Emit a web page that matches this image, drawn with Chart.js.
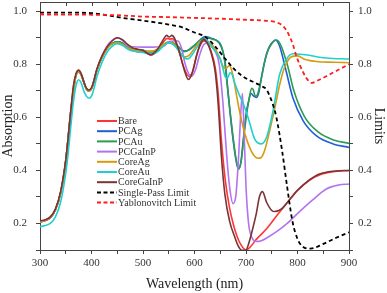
<!DOCTYPE html>
<html lang="en">
<head>
<meta charset="UTF-8" />
<title>Absorption spectra</title>
<script src="https://cdn.jsdelivr.net/npm/chart.js"></script>
<style>
  html, body { margin: 0; padding: 0; background: #fff; }
</style>
</head>
<body>
<canvas id="absChart" width="387" height="293"></canvas>
<script>
  // axis ticks
  const xTicks = [300, 350, 400, 450, 500, 550, 600, 650, 700, 750, 800, 850, 900];
  const yTicks = [0.1, 0.2, 0.3, 0.4, 0.5, 0.6, 0.7, 0.8, 0.9, 1.0];

  // Bare
  const bareWl = [300,310,320,330,340,350,355,360,365,370,375,380,385,390,395,400,405,410,420,430,440,450,460,470,480,490,500,510,515,520,530,540,547,552,557,563,570,580,589,596,605,612,618,625,632,640,646,652,660,668,675,682,690,700,710,720,740,760,783,800,824,845,869,900];
  const bareAbs = [0.205,0.21,0.222,0.252,0.315,0.435,0.525,0.625,0.715,0.76,0.773,0.76,0.732,0.708,0.7,0.708,0.735,0.775,0.825,0.86,0.878,0.885,0.88,0.864,0.852,0.848,0.848,0.84,0.835,0.838,0.855,0.885,0.898,0.895,0.897,0.885,0.848,0.785,0.755,0.77,0.84,0.875,0.888,0.88,0.85,0.79,0.69,0.52,0.36,0.26,0.2,0.155,0.12,0.1,0.115,0.14,0.18,0.23,0.286,0.325,0.364,0.385,0.395,0.4];

  // PCAg
  const pcagWl = [300,320,330,340,350,360,370,375,380,390,395,400,410,420,430,440,450,460,470,480,490,500,510,520,530,540,550,560,570,580,590,600,610,620,630,640,648,655,660,665,670,676,681,685,690,695,700,705,710,715,720,725,730,740,750,757,765,778,791,811,837,869,900];
  const pcagAbs = [0.205,0.222,0.252,0.315,0.435,0.625,0.76,0.773,0.76,0.708,0.7,0.708,0.775,0.825,0.86,0.878,0.885,0.88,0.866,0.858,0.855,0.853,0.848,0.848,0.855,0.872,0.882,0.878,0.862,0.85,0.855,0.87,0.89,0.905,0.9,0.893,0.88,0.85,0.8,0.7,0.6,0.5,0.435,0.405,0.43,0.52,0.61,0.66,0.69,0.68,0.675,0.695,0.75,0.84,0.878,0.892,0.87,0.774,0.674,0.587,0.53,0.5,0.487];

  // PCAu
  const pcauWl = [300,320,330,340,350,360,370,375,380,390,395,400,410,420,430,440,450,460,470,480,490,500,510,520,530,540,550,560,570,578,585,595,605,615,625,635,645,652,658,663,668,674,680,686,691,696,701,706,711,714,718,722,728,735,745,752,760,768,780,793,813,840,870,900];
  const pcauAbs = [0.205,0.222,0.252,0.315,0.435,0.625,0.76,0.773,0.76,0.708,0.7,0.708,0.775,0.825,0.86,0.878,0.885,0.88,0.866,0.858,0.855,0.853,0.848,0.848,0.856,0.875,0.885,0.88,0.865,0.848,0.85,0.865,0.88,0.895,0.9,0.895,0.888,0.87,0.82,0.73,0.64,0.54,0.45,0.405,0.44,0.53,0.61,0.67,0.71,0.705,0.68,0.685,0.73,0.8,0.865,0.885,0.892,0.87,0.8,0.7,0.605,0.545,0.515,0.502];

  // PCGaInP
  const pcgaWl = [300,320,330,340,350,360,370,375,380,390,395,400,410,420,430,440,450,460,470,480,500,520,540,550,560,568,575,582,590,595,602,610,618,625,632,640,648,655,662,668,675,680,685,690,693,696,700,705,712,720,730,740,760,780,804,830,856,880,900];
  const pcgaAbs = [0.205,0.222,0.252,0.315,0.435,0.625,0.76,0.775,0.762,0.708,0.7,0.708,0.778,0.83,0.868,0.89,0.9,0.89,0.87,0.866,0.865,0.865,0.868,0.885,0.888,0.888,0.86,0.8,0.76,0.755,0.78,0.835,0.875,0.88,0.87,0.85,0.8,0.66,0.47,0.34,0.275,0.3,0.43,0.62,0.69,0.56,0.34,0.2,0.145,0.132,0.135,0.145,0.17,0.2,0.245,0.29,0.33,0.345,0.349];

  // CoreAg
  const coreagWl = [300,320,330,340,350,360,370,375,380,390,395,400,410,420,430,440,450,460,470,490,510,520,530,545,555,565,575,582,590,600,610,620,630,640,650,656,661,668,675,681,688,698,710,723,729,736,746,756,765,775,790,800,815,840,870,900];
  const coreagAbs = [0.205,0.222,0.252,0.315,0.435,0.625,0.76,0.773,0.76,0.708,0.7,0.708,0.775,0.825,0.86,0.876,0.882,0.876,0.862,0.852,0.848,0.85,0.86,0.88,0.882,0.865,0.835,0.828,0.835,0.86,0.885,0.893,0.88,0.86,0.82,0.79,0.785,0.795,0.755,0.69,0.618,0.537,0.474,0.446,0.448,0.474,0.55,0.636,0.72,0.79,0.83,0.832,0.818,0.81,0.808,0.806];

  // CoreAu
  const coreauWl = [300,310,320,330,340,350,355,360,365,370,375,380,385,390,395,400,405,410,420,430,440,450,460,470,480,490,500,510,520,530,540,550,560,570,580,587,595,605,615,622,630,640,650,655,660,664,669,673,678,688,694,704,717,730,740,747,754,765,778,791,811,856,900];
  const coreauAbs = [0.188,0.192,0.2,0.225,0.28,0.39,0.47,0.57,0.66,0.72,0.742,0.73,0.7,0.68,0.672,0.68,0.71,0.75,0.805,0.845,0.868,0.878,0.872,0.858,0.85,0.847,0.845,0.84,0.84,0.85,0.87,0.882,0.872,0.85,0.825,0.82,0.835,0.865,0.89,0.893,0.875,0.85,0.82,0.785,0.752,0.748,0.768,0.762,0.73,0.68,0.655,0.6,0.518,0.5,0.525,0.575,0.64,0.76,0.818,0.84,0.837,0.824,0.82];

  // CoreGaInP
  const coregaWl = [300,310,320,330,340,350,355,360,365,370,375,380,385,390,395,400,405,410,420,430,440,450,460,470,480,490,500,510,515,520,530,540,546,551,556,562,570,580,588,595,605,612,618,625,632,640,646,652,659,668,678,685,692,700,707,713,720,726,732,740,750,756,769,783,800,820,840,860,880,900];
  const coregaAbs = [0.21,0.214,0.225,0.255,0.32,0.44,0.53,0.63,0.72,0.765,0.778,0.765,0.735,0.71,0.703,0.712,0.74,0.78,0.83,0.865,0.888,0.9,0.893,0.875,0.862,0.857,0.852,0.84,0.836,0.84,0.862,0.895,0.909,0.903,0.909,0.895,0.85,0.78,0.743,0.765,0.84,0.88,0.893,0.88,0.845,0.774,0.65,0.46,0.31,0.21,0.15,0.115,0.099,0.1,0.136,0.18,0.237,0.3,0.32,0.28,0.249,0.245,0.255,0.286,0.325,0.36,0.385,0.395,0.399,0.4];

  // limits (right axis)
  const singleWl = [300,350,400,430,460,500,550,575,600,620,640,660,678,690,704,718,730,740,746,752,759,770,780,790,800,810,825,850,875,900];
  const singleLim = [0.995,0.995,0.993,0.985,0.975,0.965,0.95,0.94,0.92,0.905,0.868,0.82,0.78,0.76,0.743,0.73,0.718,0.705,0.68,0.65,0.6,0.475,0.337,0.21,0.142,0.113,0.105,0.123,0.146,0.167];
  const yabloWl = [300,400,450,500,550,600,650,700,740,756,768,778,786,791,798,804,811,817,827,840,856,875,900];
  const yabloLim = [0.988,0.987,0.985,0.98,0.978,0.975,0.972,0.968,0.964,0.96,0.95,0.93,0.9,0.875,0.83,0.8,0.77,0.749,0.73,0.74,0.755,0.775,0.8];

  const serif = "'Liberation Serif', 'Times New Roman', serif";
  const axisColor = '#444';

  function pts(xs, ys) {
    return xs.map((x, i) => ({ x: x, y: ys[i] }));
  }

  function series(label, xs, ys, color, dash, axis) {
    return {
      label: label,
      data: pts(xs, ys),
      borderColor: color,
      backgroundColor: color,
      borderWidth: dash ? 1.8 : 1.6,
      borderDash: dash || [],
      pointRadius: 0,
      cubicInterpolationMode: 'monotone',
      fill: false,
      yAxisID: axis || 'y'
    };
  }

  const datasets = [
    series('Bare', bareWl, bareAbs, '#ff3535'),
    series('PCAg', pcagWl, pcagAbs, '#1f5fd6'),
    series('PCAu', pcauWl, pcauAbs, '#2c9c52'),
    series('PCGaInP', pcgaWl, pcgaAbs, '#b274ee'),
    series('CoreAg', coreagWl, coreagAbs, '#d79b0c'),
    series('CoreAu', coreauWl, coreauAbs, '#1fd0d0'),
    series('CoreGaInP', coregaWl, coregaAbs, '#7a3434'),
    series('Single-Pass Limit', singleWl, singleLim, '#000000', [4, 3], 'y2'),
    series('Yablonovitch Limit', yabloWl, yabloLim, '#ff1c1c', [4, 3], 'y2')
  ];
  // later entries drawn on top
  datasets.forEach((d, i) => { d.order = datasets.length - i; });

  // legend inside the plot + top frame line
  const frameAndLegend = {
    id: 'frameAndLegend',
    beforeDatasetsDraw(chart) {
      const ctx = chart.ctx;
      const a = chart.chartArea;
      const xs = chart.scales.x;
      ctx.save();
      ctx.strokeStyle = axisColor;
      ctx.lineWidth = 1;
      ctx.beginPath();
      ctx.moveTo(a.left, a.top + 0.5);
      ctx.lineTo(a.right, a.top + 0.5);
      xTicks.forEach(v => {
        const px = Math.round(xs.getPixelForValue(v)) + 0.5;
        ctx.moveTo(px, a.top);
        ctx.lineTo(px, a.top + 4);
      });
      ctx.stroke();
      ctx.restore();
    },
    afterDatasetsDraw(chart) {
      const ctx = chart.ctx;
      ctx.save();
      ctx.font = '10px ' + serif;
      ctx.textBaseline = 'middle';
      ctx.textAlign = 'left';
      chart.data.datasets.forEach((ds, i) => {
        const y = 121 + i * 10.2;
        ctx.strokeStyle = ds.borderColor;
        ctx.lineWidth = 2;
        ctx.setLineDash(ds.borderDash.length ? [4, 2.5] : []);
        ctx.beginPath();
        ctx.moveTo(97, y);
        ctx.lineTo(117, y);
        ctx.stroke();
        ctx.setLineDash([]);
        ctx.fillStyle = '#333';
        ctx.fillText(ds.label, 118, y + 0.5);
      });
      ctx.restore();
    }
  };

  const yLabel = v => (Math.round(v * 10) % 2 === 0 ? v.toFixed(1) : '');

  function noPad(s) {
    s.paddingTop = 0;
    s.paddingBottom = 0;
    s.paddingLeft = 0;
    s.paddingRight = 0;
  }

  function yAxis(pos, title, width) {
    return {
      type: 'linear',
      position: pos,
      min: 0.1,
      max: 1.035,
      afterBuildTicks: s => { s.ticks = yTicks.map(v => ({ value: v })); },
      afterFit: s => { s.width = width; noPad(s); },
      ticks: {
        callback: yLabel,
        font: { family: serif, size: 11 },
        color: '#333',
        padding: pos === 'left' ? 9 : 5
      },
      grid: { display: true, drawOnChartArea: false, tickLength: 4, color: axisColor },
      border: { display: true, color: axisColor, width: 1 },
      title: {
        display: true,
        text: title,
        font: { family: serif, size: 14 },
        color: '#222',
        padding: 0
      }
    };
  }

  new Chart(document.getElementById('absChart'), {
    type: 'line',
    data: { datasets: datasets },
    options: {
      responsive: false,
      animation: false,
      devicePixelRatio: 1,
      layout: { padding: { top: 2, left: 0, right: 0, bottom: 0 } },
      plugins: { legend: { display: false }, tooltip: { enabled: false } },
      scales: {
        x: {
          type: 'linear',
          position: 'bottom',
          min: 300,
          max: 900,
          afterBuildTicks: s => { s.ticks = xTicks.map(v => ({ value: v })); },
          afterFit: s => { s.height = 43; noPad(s); },
          ticks: {
            callback: v => (v % 100 === 0 ? String(v) : ''),
            font: { family: serif, size: 11 },
            color: '#333',
            padding: 3,
            maxRotation: 0,
            autoSkip: false
          },
          grid: { display: true, drawOnChartArea: false, tickLength: 4, color: axisColor },
          border: { display: true, color: axisColor, width: 1 },
          title: {
            display: true,
            text: 'Wavelength (nm)',
            font: { family: serif, size: 14 },
            color: '#222',
            padding: 0
          }
        },
        y: yAxis('left', 'Absorption', 40),
        y2: yAxis('right', 'Limits', 38)
      }
    },
    plugins: [frameAndLegend]
  });
</script>
</body>
</html>
